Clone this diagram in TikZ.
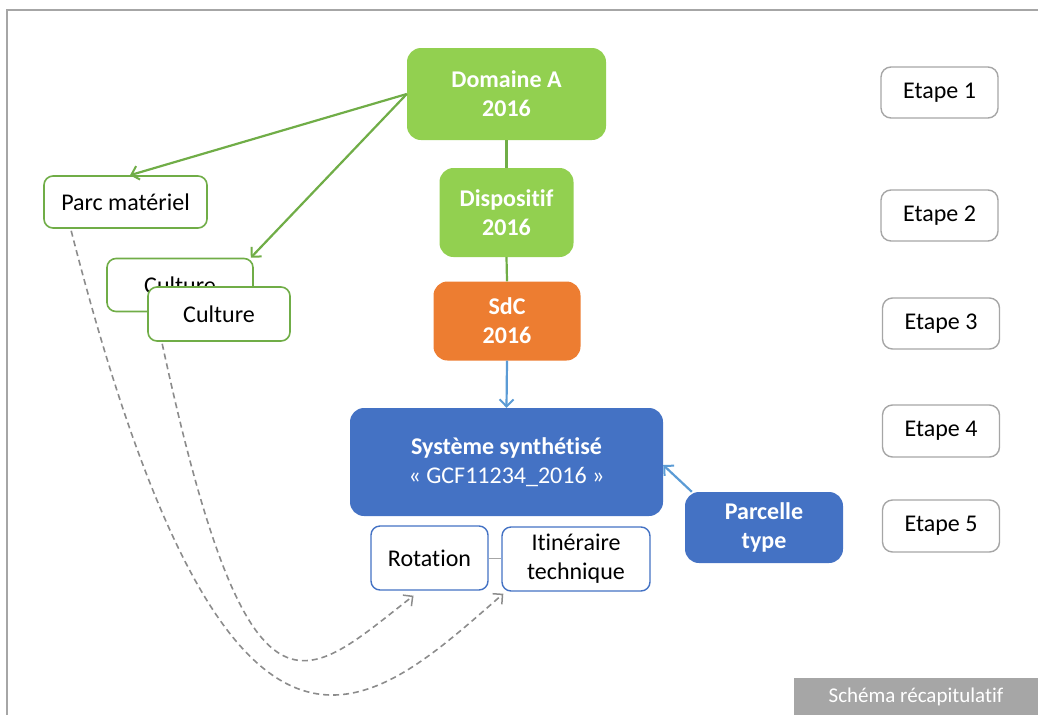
\documentclass[tikz,border=0pt]{standalone}
\usepackage{fontspec}
\setmainfont{Carlito}[Ligatures=NoCommon]
\usetikzlibrary{arrows.meta}
\definecolor{gfill}{HTML}{92D050}
\definecolor{gline}{HTML}{70AD47}
\definecolor{ofill}{HTML}{ED7D31}
\definecolor{bfill}{HTML}{4472C4}
\definecolor{barrow}{HTML}{5B9BD5}
\definecolor{graybox}{HTML}{A6A6A6}
\definecolor{dashgray}{HTML}{8C8C8C}
\tikzset{
  base/.style={rectangle, rounded corners=#1, inner sep=0pt, align=center, font=\fontsize{24}{29}\selectfont},
  base/.default=10pt,
  fillbox/.style={base=14pt, fill=#1, text=white, font=\fontsize{24}{29}\selectfont\bfseries},
  greenout/.style={base=9pt, draw=gline, line width=1.6pt, fill=white, text=black},
  blueout/.style={base=9pt, draw=bfill, line width=1.4pt, fill=white, text=black},
  etapebox/.style={base=10pt, draw=graybox, line width=1.4pt, fill=white, text=black, minimum width=117pt, minimum height=51pt},
  garrow/.style={draw=gline, line width=2.2pt, -{Straight Barb[length=7pt,width=14pt,line width=2pt]}},
  barrowst/.style={draw=barrow, line width=2.2pt, -{Straight Barb[length=7pt,width=14pt,line width=2pt]}},
  dasharrow/.style={draw=dashgray, line width=1.6pt, dash pattern=on 6pt off 4pt, -{Straight Barb[length=7pt,width=14pt,line width=1.5pt]}},
}
\begin{document}
\begin{tikzpicture}[x=1pt,y=-1pt]
\useasboundingbox (0,0) rectangle (1038,715);
% frame
\draw[graybox, line width=2pt] (7,715) -- (7,10) -- (1038,10);

% central column
\node[fillbox=gfill, minimum width=199pt, minimum height=92pt] (domaine) at (506.5,94) {Domaine A\\2016};
\node[fillbox=gfill, minimum width=134pt, minimum height=89pt] (dispositif) at (506.5,212.5) {Dispositif\\2016};
\node[fillbox=ofill, minimum width=147pt, minimum height=79pt] (sdc) at (507,321) {SdC\\2016};
\node[fillbox=bfill, minimum width=313pt, minimum height=108pt] (systeme) at (506.5,462) {Système synthétisé\\{\mdseries « GCF11234\_2016 »}};
\node[fillbox=bfill, minimum width=158pt, minimum height=71pt] (parcelle) at (764,527.5) {Parcelle\\type};

\node[blueout, minimum width=117pt, minimum height=64pt] (rotation) at (429.5,558) {Rotation};
\node[blueout, minimum width=148pt, minimum height=64pt] (itin) at (576,559) {Itinéraire\\technique};
\draw[graybox, line width=1pt] (rotation.east) -- (itin.west |- rotation.east);

% left boxes
\node[greenout, minimum width=163pt, minimum height=52pt] (parc) at (125.5,202) {Parc matériel};
\node[greenout, minimum width=146pt, minimum height=53pt] (cultureback) at (180,285) {Culture};
\node[greenout, minimum width=142pt, minimum height=54pt] (culturefront) at (219,314) {Culture};

% etapes
\node[etapebox] (e1) at (939.5,92.5) {Etape 1};
\node[etapebox] (e2) at (939.5,215.5) {Etape 2};
\node[etapebox] (e3) at (941,323.5) {Etape 3};
\node[etapebox, minimum height=52pt] (e4) at (941,431) {Etape 4};
\node[etapebox, minimum height=52pt] (e5) at (941,526) {Etape 5};

% caption
\node[rectangle, fill=graybox, text=white, inner sep=0pt, minimum width=244pt, minimum height=37pt, font=\fontsize{21}{25}\selectfont] (caption) at (916,696.5) {Schéma récapitulatif};

% connectors
\draw[gline, line width=2.2pt] (domaine.south) -- (dispositif.north);
\draw[gline, line width=2.2pt] (dispositif.south) -- (sdc.north);
\draw[barrowst] (sdc.south) -- (systeme.north);
\draw[barrowst] ([xshift=7pt]parcelle.north west) -- ([yshift=-3pt]systeme.east);
\draw[garrow] (domaine.west) -- ([xshift=4.5pt]parc.north);
\draw[garrow] (domaine.west) -- ([xshift=-3pt]cultureback.north east);

% dashed curves
\draw[dasharrow] ([xshift=28pt,yshift=-2pt]parc.south west) .. controls (230,850) and (370,710) .. ([xshift=2pt,yshift=-2pt]itin.south west);
\draw[dasharrow] ([xshift=15pt,yshift=-2pt]culturefront.south west) .. controls (250,750) and (305,680) .. ([xshift=-16pt,yshift=-5pt]rotation.south);
\end{tikzpicture}
\end{document}
